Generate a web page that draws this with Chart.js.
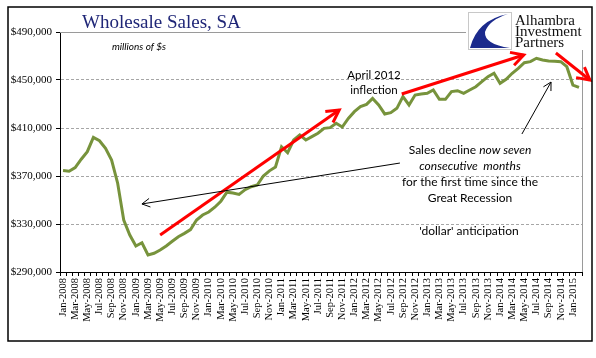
<!DOCTYPE html>
<html>
<head>
<meta charset="utf-8">
<script src="https://cdn.jsdelivr.net/npm/chart.js@4/dist/chart.umd.min.js"></script>
<style>
html,body{margin:0;padding:0;background:#fff;}
#wrap{width:596px;height:358px;}
</style>
</head>
<body>
<div id="wrap"><canvas id="c" width="596" height="358"></canvas></div>
<script>
// ---- data ----
const months = ["Jan","Feb","Mar","Apr","May","Jun","Jul","Aug","Sep","Oct","Nov","Dec"];
const categories = [];
for (let yr = 2008; yr <= 2015; yr++) {
  for (let m = 0; m < 12; m++) {
    if (yr === 2015 && m > 1) break;
    categories.push(months[m] + "-" + yr);
  }
}
const sales2008 = [374500,374000,377000,384000,390300,402200,399400,393000,383300,364000,333300,320800];
const sales2009 = [311700,314400,304200,305600,308300,311700,315600,319400,322200,325300,333300,337500];
const sales2010 = [340000,344000,349000,356500,355800,354600,358600,361100,362500,370000,374300,377500];
const sales2011 = [394400,389400,400000,404200,400000,402800,405600,409700,410300,413900,410800,418000];
const sales2012 = [423600,427800,429700,434700,429200,421700,422800,426400,436100,429200,437500,438300];
const sales2013 = [438900,441700,433900,433900,440300,441100,438900,441700,444400,448600,452800,455600];
const sales2014 = [447200,450600,455600,459700,464400,465300,468100,466700,465900,465600,465300,461100];
const sales2015 = [445800,443900];
const wholesaleSales = [].concat(sales2008,sales2009,sales2010,sales2011,sales2012,sales2013,sales2014,sales2015);
const yTicks = [290000,330000,370000,410000,450000,490000];

// annotation arrows in data space: [fromIndex, fromValue, toIndex, toValue]
const redArrows = [
  [16.0, 320800, 45.5, 425000],
  [55.8, 438300, 75.9, 470800],
  [81.2, 472500, 86.8, 450000]
];
const blackArrows = [
  [55.5, 380800, 13.0, 346700],
  [75.6, 405000, 80.4, 448300]
];

function drawArrow(ctx, x1, y1, x2, y2, color, width, head) {
  const ang = Math.atan2(y2 - y1, x2 - x1);
  ctx.save();
  ctx.strokeStyle = color;
  ctx.lineWidth = width;
  ctx.lineCap = 'butt';
  ctx.lineJoin = 'miter';
  ctx.beginPath();
  ctx.moveTo(x1, y1);
  ctx.lineTo(x2, y2);
  ctx.stroke();
  ctx.beginPath();
  ctx.moveTo(x2 - head * Math.cos(ang - 0.5), y2 - head * Math.sin(ang - 0.5));
  ctx.lineTo(x2, y2);
  ctx.lineTo(x2 - head * Math.cos(ang + 0.5), y2 - head * Math.sin(ang + 0.5));
  ctx.stroke();
  ctx.restore();
}

const decor = {
  id: 'decor',
  afterDraw(chart) {
    const {ctx, chartArea: a, scales: {x, y}} = chart;
    ctx.save();
    // plot border top/right
    ctx.strokeStyle = '#9A9A9A';
    ctx.lineWidth = 1;
    ctx.beginPath();
    ctx.moveTo(a.left, a.top + 0.5); ctx.lineTo(a.right, a.top + 0.5);
    ctx.moveTo(a.right + 0.5, a.top); ctx.lineTo(a.right + 0.5, a.bottom);
    ctx.stroke();

    // arrows
    redArrows.forEach(r => drawArrow(ctx, x.getPixelForValue(r[0]), y.getPixelForValue(r[1]),
      x.getPixelForValue(r[2]), y.getPixelForValue(r[3]), '#FF0000', 3, 14));
    blackArrows.forEach(r => drawArrow(ctx, x.getPixelForValue(r[0]), y.getPixelForValue(r[1]),
      x.getPixelForValue(r[2]), y.getPixelForValue(r[3]), '#000000', 1, 9));

    // logo area
    ctx.fillStyle = '#fff';
    ctx.fillRect(466, 9, 125, 41);
    ctx.strokeStyle = '#C8C8C8';
    ctx.strokeRect(468.5, 12.5, 43, 37);
    ctx.fillStyle = '#1B2A8C';
    ctx.beginPath();
    ctx.moveTo(508, 14);
    ctx.quadraticCurveTo(477, 20, 470, 48);
    ctx.lineTo(510, 48);
    ctx.quadraticCurveTo(484, 44, 485, 32);
    ctx.quadraticCurveTo(489, 20, 508, 14);
    ctx.fill();
    ctx.fillStyle = '#111';
    ctx.font = '15px "Liberation Serif"';
    ctx.textAlign = 'left';
    ctx.textBaseline = 'alphabetic';
    ctx.fillText('Alhambra', 515, 25);
    ctx.fillText('Investment', 515, 36);
    ctx.fillText('Partners', 515, 47);

    // title
    ctx.fillStyle = '#1F2677';
    ctx.font = '19px "Liberation Serif"';
    ctx.fillText('Wholesale Sales, SA', 82, 28);
    ctx.fillStyle = '#000';
    ctx.font = 'italic 10px Lato';
    ctx.textAlign = 'center';
    ctx.textBaseline = 'middle';
    ctx.fillText('millions of $s', 139, 47);

    // annotation text
    ctx.font = '11.5px Lato';
    ctx.fillText('April 2012', 374, 75);
    ctx.fillText('inflection', 374, 90);
    // mixed line
    const p1 = 'Sales decline ', p2 = 'now seven';
    ctx.font = '12px Lato';
    const w1 = ctx.measureText(p1).width;
    ctx.font = 'italic 12px Lato';
    const w2 = ctx.measureText(p2).width;
    let sx = 470 - (w1 + w2) / 2;
    ctx.textAlign = 'left';
    ctx.font = '12px Lato';
    ctx.fillText(p1, sx, 150);
    ctx.font = 'italic 12px Lato';
    ctx.fillText(p2, sx + w1, 150);
    ctx.textAlign = 'center';
    ctx.fillText('consecutive  months', 470, 166);
    ctx.font = '12px Lato';
    ctx.fillText('for the first time since the', 470, 182);
    ctx.fillText('Great Recession', 470, 198);
    ctx.fillText("'dollar' anticipation", 469, 231);

    // outer frame
    ctx.strokeStyle = '#000';
    ctx.lineWidth = 1.5;
    ctx.strokeRect(8, 7, 584, 334);
    ctx.restore();
  }
};

new Chart(document.getElementById('c'), {
  type: 'line',
  data: {
    labels: categories,
    datasets: [{
      data: wholesaleSales,
      borderColor: '#77933C',
      borderWidth: 3,
      pointRadius: 0,
      tension: 0,
      fill: false
    }]
  },
  options: {
    responsive: false,
    animation: false,
    events: [],
    layout: { padding: { left: 0, top: 32, right: 14, bottom: 0 } },
    plugins: { legend: { display: false }, tooltip: { enabled: false }, title: { display: false } },
    scales: {
      x: {
        type: 'category',
        offset: true,
        afterFit(s) { s.height = 86; },
        grid: { display: true, drawOnChartArea: false, offset: true, tickLength: 4, color: '#000', tickColor: '#000' },
        border: { display: true, color: '#000', width: 1 },
        ticks: {
          autoSkip: false,
          minRotation: 90,
          maxRotation: 90,
          padding: 2,
          color: '#000',
          font: { family: '"Liberation Serif"', size: 10.5 },
          callback: function (val, idx) { return idx % 2 === 0 ? this.getLabelForValue(val) : ''; }
        }
      },
      y: {
        min: 290000,
        max: 490000,
        afterFit(s) { s.width = 60; },
        afterBuildTicks(s) { s.ticks = yTicks.map(v => ({ value: v })); },
        grid: { color: '#A6A6A6', lineWidth: 1, tickLength: 4, tickColor: '#000', tickBorderDash: [] },
        border: { display: true, color: '#000', width: 1, dash: [3, 2] },
        ticks: {
          padding: 4,
          color: '#000',
          font: { family: '"Liberation Serif"', size: 11 },
          callback: v => '$' + v.toLocaleString('en-US')
        }
      }
    }
  },
  plugins: [decor]
});
</script>
</body>
</html>
